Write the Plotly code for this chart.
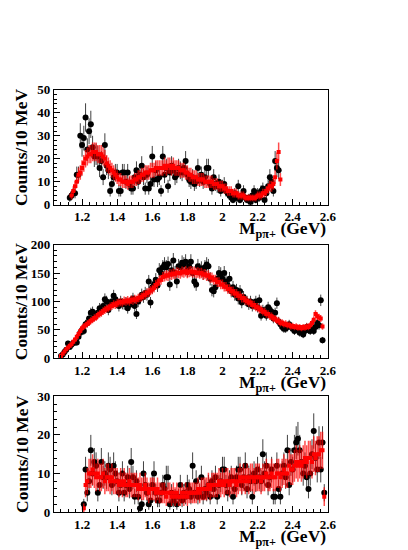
import numpy as np
import plotly.graph_objects as go

# ── data (10 MeV bins, bin centres in GeV) ──────────────────────────────────

P1_DATA_START = 1.13
P1_DATA = [
    3, 4, 5, 5, 13, 13, 30, 26, 29, 38,
    24, 32, 35, 25, 21, 22, 21, 16, 19, 12,
    26, 17, 15, 6, 9, 12, 14, 14, 6, 6,
    14, 14, 10, 14, 9, 7, 7, 12, 15, 10,
    13, 17, 12, 7, 13, 7, 9, 21, 11, 15,
    11, 12, 6, 21, 13, 16, 8, 14, 17, 15,
    12, 13, 16, 15, 14, 16, 19, 13, 11, 10,
    12, 9, 10, 16, 11, 13, 10, 12, 16, 16,
    9, 7, 12, 9, 8, 10, 6, 8, 9, 6,
    5, 4, 3, 2, 5, 3, 8, 2, 4, 6,
    3, 2, 3, 1, 4, 6, 2, 5, 3, 6,
    7, 2, 5, 8, 12, 10, 6, 19, 16, 15,
]
P1_MC_START = 1.14
P1_MC = [
    4, 6, 8, 10, 13, 14, 16, 18, 20, 21,
    22, 22, 23, 23, 23, 22, 22, 22, 21, 20,
    18, 17, 16, 15, 14, 13, 12, 11, 11, 10,
    10, 10, 9, 10, 10, 10, 11, 11, 12, 12,
    13, 13, 14, 14, 14, 15, 15, 15, 16, 16,
    16, 16, 16, 17, 16, 17, 17, 16, 17, 16,
    16, 16, 15, 15, 15, 14, 14, 13, 13, 12,
    12, 12, 11, 11, 11, 11, 10, 10, 10, 10,
    10, 9, 9, 9, 8, 8, 8, 7, 7, 6,
    6, 6, 5, 5, 5, 4, 4, 4, 4, 3,
    3, 3, 3, 3, 3, 3, 4, 4, 4, 5,
    5, 6, 7, 8, 8, 9, 12, 19, 23, 11,
]

P2_DATA_START = 1.08
P2_DATA = [
    4, 7, 11, 15, 26, 20, 24, 27, 28, 28,
    38, 45, 50, 48, 60, 62, 70, 80, 82, 74,
    76, 80, 88, 85, 92, 104, 100, 85, 95, 100,
    110, 104, 98, 92, 100, 96, 95, 98, 88, 94,
    100, 105, 92, 78, 100, 105, 112, 108, 115, 112,
    135, 98, 125, 130, 138, 128, 155, 150, 160, 165,
    160, 166, 130, 155, 172, 150, 135, 162, 160, 168,
    165, 170, 155, 162, 170, 150, 135, 130, 162, 155,
    158, 150, 160, 165, 162, 140, 120, 118, 125, 140,
    150, 148, 140, 150, 135, 128, 140, 118, 125, 112,
    120, 105, 118, 98, 108, 102, 100, 95, 100, 92,
    95, 100, 90, 102, 75, 85, 82, 75, 90, 85,
    82, 70, 80, 97, 65, 60, 55, 52, 52, 55,
    60, 55, 52, 48, 52, 50, 45, 48, 42, 48,
    55, 50, 48, 52, 48, 55, 62, 58, 102, 32,
]
P2_MC_START = 1.08
P2_MC = [
    4, 8, 12, 16, 19, 22, 25, 29, 33, 38,
    43, 48, 53, 56, 58, 61, 63, 66, 68, 71,
    72, 76, 78, 80, 83, 85, 87, 88, 91, 92,
    95, 94, 97, 98, 99, 98, 101, 100, 102, 100,
    103, 102, 104, 103, 106, 107, 108, 111, 112, 115,
    116, 119, 121, 124, 129, 131, 137, 138, 143, 144,
    146, 145, 148, 147, 149, 148, 151, 150, 149, 152,
    151, 153, 150, 152, 153, 151, 152, 150, 151, 149,
    150, 147, 148, 145, 146, 142, 142, 138, 138, 134,
    134, 130, 130, 126, 126, 122, 122, 118, 118, 114,
    114, 110, 110, 106, 106, 102, 101, 98, 98, 94,
    94, 90, 90, 86, 86, 82, 82, 78, 78, 74,
    74, 70, 70, 66, 66, 62, 63, 60, 61, 58,
    59, 56, 57, 55, 56, 54, 55, 53, 55, 54,
    56, 55, 58, 62, 68, 78, 74, 72, 70, 56,
]

P3_DATA_START = 1.21
P3_DATA = [
    2, 11, 5, 8, 16, 10, 13, 12, 5, 7,
    13, 9, 10, 9, 12, 11, 7, 12, 10, 8,
    5, 7, 10, 5, 7, 9, 6, 13, 9, 4,
    8, 4, 1, 2, 10, 7, 5, 2, 3, 7,
    10, 5, 3, 3, 5, 7, 6, 9, 9, 2,
    5, 3, 4, 2, 4, 7, 3, 5, 4, 7,
    6, 4, 12, 5, 8, 4, 5, 9, 4, 6,
    5, 7, 4, 8, 6, 9, 4, 7, 8, 11,
    11, 7, 5, 8, 9, 4, 6, 9, 11, 11,
    7, 9, 12, 6, 9, 8, 4, 10, 8, 11,
    9, 8, 15, 10, 12, 7, 9, 11, 4, 4,
    12, 6, 4, 10, 12, 9, 16, 7, 13, 11,
    16, 18, 19, 16, 13, 10, 12, 9, 6, 10,
    15, 21, 14, 11, 18, 11, 18, 5,
]
P3_MC_START = 1.21
P3_MC = [
    1, 7, 8, 10, 10, 11, 10, 9, 10, 9,
    9, 10, 8, 9, 9, 8, 9, 8, 8, 8,
    7, 8, 7, 8, 7, 7, 8, 7, 7, 7,
    7, 6, 7, 6, 6, 7, 6, 5, 6, 6,
    6, 5, 6, 5, 5, 5, 5, 4, 5, 5,
    4, 5, 4, 5, 4, 4, 5, 4, 5, 4,
    5, 5, 5, 5, 5, 6, 5, 6, 6, 6,
    6, 7, 6, 7, 7, 7, 7, 8, 7, 8,
    7, 8, 8, 7, 8, 8, 8, 7, 8, 9,
    8, 9, 8, 9, 8, 9, 9, 8, 9, 9,
    9, 8, 9, 9, 10, 9, 9, 10, 9, 9,
    10, 10, 9, 10, 11, 10, 10, 12, 11, 11,
    12, 13, 12, 13, 12, 13, 14, 13, 14, 14,
    13, 15, 14, 15, 15, 16, 16, 4,
]

PANELS = [
    dict(data=(P1_DATA_START, P1_DATA), mc=(P1_MC_START, P1_MC), ymax=50, dy=10, ydm=2, mcerr=0.85),
    dict(data=(P2_DATA_START, P2_DATA), mc=(P2_MC_START, P2_MC), ymax=200, dy=50, ydm=10, mcerr=0.75),
    dict(data=(P3_DATA_START, P3_DATA), mc=(P3_MC_START, P3_MC), ymax=30, dy=10, ydm=2, mcerr=1.2),
]

# ── layout in pixels ──────────────────────────────────────────────────────────
W, H = 408, 550
X0, X1 = 47, 327
PANEL_PX = [(77, 195), (236, 353), (392, 511)]

FONT = "Liberation Serif"


def bins(start, vals):
    return np.round(start + 0.01 * np.arange(len(vals)), 3)


fig = go.Figure()
annotations = []

for i, p in enumerate(PANELS, start=1):
    xa = "x" if i == 1 else f"x{i}"
    ya = "y" if i == 1 else f"y{i}"
    top, bot = PANEL_PX[i - 1]

    dstart, dvals = p["data"]
    dv = np.array(dvals, dtype=float)
    fig.add_trace(go.Scatter(
        x=bins(dstart, dvals), y=dv, mode="markers", xaxis=xa, yaxis=ya,
        marker=dict(color="black", size=6, symbol="circle"),
        error_y=dict(type="data", array=np.sqrt(dv), color="rgba(0,0,0,0.75)",
                     thickness=1, width=0),
        showlegend=False,
    ))

    mstart, mvals = p["mc"]
    mv = np.array(mvals, dtype=float)
    fig.add_trace(go.Scatter(
        x=bins(mstart, mvals), y=mv, mode="markers", xaxis=xa, yaxis=ya,
        marker=dict(color="red", size=4, symbol="square"),
        error_y=dict(type="data", array=p["mcerr"] * np.sqrt(mv),
                     color="rgba(255,0,0,0.7)", thickness=1.5, width=0),
        showlegend=False,
    ))

    ydom = [1 - bot / H, 1 - top / H]
    axis_common = dict(
        showline=True, linecolor="black", linewidth=1, mirror=True,
        showgrid=False, zeroline=False, ticks="inside", tickcolor="black",
        tickfont=dict(family=FONT, size=13, color="black", weight="bold"),
    )
    fig.update_layout(**{
        ("xaxis" if i == 1 else f"xaxis{i}"): dict(
            axis_common, domain=[X0 / W, X1 / W], range=[1.04, 2.6],
            anchor=ya, dtick=0.2, tick0=1.2, ticklen=6,
            minor=dict(ticks="inside", dtick=0.04, ticklen=3, tickcolor="black"),
        ),
        ("yaxis" if i == 1 else f"yaxis{i}"): dict(
            axis_common, domain=ydom, range=[0, p["ymax"]],
            anchor=xa, dtick=p["dy"], ticklen=6,
            minor=dict(ticks="inside", dtick=p["ydm"], ticklen=3, tickcolor="black"),
        ),
    })

    annotations.append(dict(
        text="Counts/10 MeV", textangle=-90, xref="paper", yref="paper",
        x=14 / W, y=1 - (top + bot) / 2 / H, xanchor="center", yanchor="middle",
        showarrow=False,
        font=dict(family=FONT, size=17.5, color="black", weight="bold"),
    ))
    annotations.append(dict(
        text="M<sub>pπ+</sub> (GeV)", xref="paper", yref="paper",
        x=X1 / W, y=1 - (bot + 12) / H, xanchor="right", yanchor="top", showarrow=False,
        font=dict(family=FONT, size=17.5, color="black", weight="bold"),
    ))

fig.update_layout(
    width=W, height=H, margin=dict(l=0, r=0, t=0, b=0),
    paper_bgcolor="white", plot_bgcolor="white",
    annotations=annotations,
)

fig.write_html("out.html")
